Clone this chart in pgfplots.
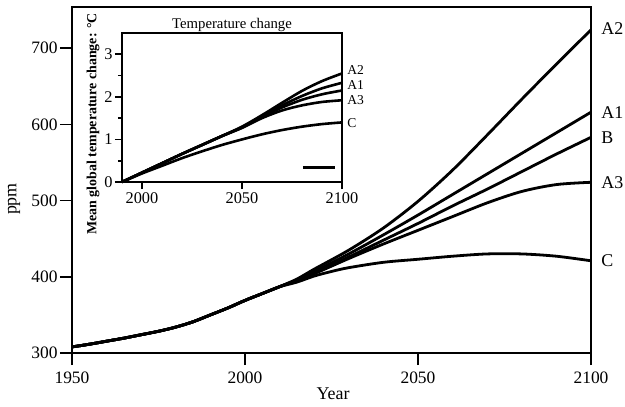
\documentclass[border=0pt]{standalone}
\usepackage{fontspec}
\setmainfont{Liberation Serif}
\usepackage{pgfplots}
\pgfplotsset{compat=1.18}
\begin{document}
\begin{tikzpicture}
\begin{axis}[
  name=main, at={(0,0)}, anchor=south west,
  scale only axis, width=259.5bp, height=173bp,
  xmin=1950, xmax=2100, ymin=300, ymax=754,
  xtick={1950,2000,2050,2100}, ytick={300,400,500,600,700},
  tick align=outside, major tick length=6bp,
  xtick pos=left, ytick pos=left,
  axis line style={line width=0.8bp},
  every tick/.style={black, line width=0.8bp},
  /pgf/number format/assume math mode=true,
  /pgf/number format/1000 sep={},
  ticklabel style={font=\fontsize{8.75}{10}\selectfont},
  yticklabel style={inner sep=1bp},
  xlabel={Year}, ylabel={ppm},
  label style={font=\fontsize{9}{10}\selectfont},
  xlabel style={at={(axis description cs:0.503,0)}, anchor=center, yshift=-20.5bp},
  ylabel style={at={(axis description cs:-0.1118,0.445)}, anchor=center},
  clip=false,
]
\path (rel axis cs:-0.1387,-0.1532) rectangle (rel axis cs:1.0655,1.0202);
\addplot[smooth, line width=1.4bp] coordinates {
(1950,308) (1955,311.5) (1960,315.5) (1965,319.5) (1970,324) (1975,328.5) (1980,334) (1985,341) (1990,350) (1995,359) (2000,369) (2005,378) (2010,387)
(2015,397) (2020,410) (2030,435) (2040,464) (2050,499) (2060,540) (2070,586) (2080,633) (2090,679) (2100,724)};
\addplot[smooth, line width=1.4bp] coordinates {
(1950,308) (1955,311.5) (1960,315.5) (1965,319.5) (1970,324) (1975,328.5) (1980,334) (1985,341) (1990,350) (1995,359) (2000,369) (2005,378) (2010,387)
(2015,396) (2020,407) (2030,430) (2040,455) (2050,481) (2060,508) (2070,535) (2080,562) (2090,589) (2100,616)};
\addplot[smooth, line width=1.4bp] coordinates {
(1950,308) (1955,311.5) (1960,315.5) (1965,319.5) (1970,324) (1975,328.5) (1980,334) (1985,341) (1990,350) (1995,359) (2000,369) (2005,378) (2010,387)
(2015,395.5) (2020,405) (2030,426) (2040,448) (2050,470) (2060,493) (2070,515) (2080,538) (2090,561) (2100,583)};
\addplot[smooth, line width=1.4bp] coordinates {
(1950,308) (1955,311.5) (1960,315.5) (1965,319.5) (1970,324) (1975,328.5) (1980,334) (1985,341) (1990,350) (1995,359) (2000,369) (2005,378) (2010,387)
(2015,395) (2020,404) (2030,424) (2040,443) (2050,461) (2060,479) (2070,497) (2080,512) (2090,521) (2100,524)};
\addplot[smooth, line width=1.4bp] coordinates {
(1950,308) (1955,311.5) (1960,315.5) (1965,319.5) (1970,324) (1975,328.5) (1980,334) (1985,341) (1990,350) (1995,359) (2000,369) (2005,378) (2010,387)
(2015,393) (2020,401) (2025,407) (2030,412) (2040,419) (2050,423) (2060,427) (2070,430) (2080,430) (2090,427) (2100,421)};
\begin{scope}[every node/.style={anchor=west, inner sep=0pt, xshift=5bp, font=\fontsize{9}{10}\selectfont}]
\node at (axis cs:2100,726) {A2};
\node at (axis cs:2100,616) {A1};
\node at (axis cs:2100,583) {B};
\node at (axis cs:2100,523) {A3};
\node at (axis cs:2100,421) {C};
\end{scope}
\end{axis}

\begin{axis}[
  at={(25bp,85.5bp)}, anchor=south west,
  scale only axis, width=110bp, height=74.5bp,
  xmin=1990, xmax=2100, ymin=0, ymax=3.5,
  xtick={2000,2050,2100}, ytick={0,1,2,3}, minor ytick={0.5,1.5,2.5},
  tick align=outside, major tick length=3.5bp, minor tick length=2bp,
  xtick pos=left, ytick pos=left,
  axis line style={line width=0.8bp},
  every tick/.style={black, line width=0.8bp},
  /pgf/number format/assume math mode=true,
  /pgf/number format/1000 sep={},
  ticklabel style={font=\fontsize{8.2}{9}\selectfont},
  yticklabel style={inner sep=1bp},
  xticklabel style={inner sep=1.5bp},
  ylabel={\textbf{Mean global temperature change: °C}},
  ylabel style={at={(axis description cs:-0.1318,0.39)}, anchor=center, font=\fontsize{7}{8}\selectfont},
  clip=false,
]
\addplot[smooth, line width=1.3bp] coordinates {
(1990,0) (2000,0.22) (2010,0.44) (2020,0.66) (2030,0.87) (2040,1.08)
(2050,1.3) (2060,1.57) (2070,1.86) (2080,2.14) (2090,2.37) (2100,2.55)};
\addplot[smooth, line width=1.3bp] coordinates {
(1990,0) (2000,0.22) (2010,0.44) (2020,0.66) (2030,0.87) (2040,1.08)
(2050,1.29) (2060,1.55) (2070,1.8) (2080,2.02) (2090,2.2) (2100,2.33)};
\addplot[smooth, line width=1.3bp] coordinates {
(1990,0) (2000,0.22) (2010,0.44) (2020,0.66) (2030,0.87) (2040,1.08)
(2050,1.28) (2060,1.53) (2070,1.75) (2080,1.93) (2090,2.06) (2100,2.15)};
\addplot[smooth, line width=1.3bp] coordinates {
(1990,0) (2000,0.22) (2010,0.44) (2020,0.66) (2030,0.87) (2040,1.08)
(2050,1.27) (2060,1.5) (2070,1.68) (2080,1.8) (2090,1.88) (2100,1.92)};
\addplot[smooth, line width=1.3bp] coordinates {
(1990,0) (2000,0.2) (2010,0.38) (2020,0.56) (2030,0.72) (2040,0.87) (2050,1.0) (2060,1.12) (2070,1.22) (2080,1.3) (2090,1.36) (2100,1.4)};
\addplot[line width=1.5bp] coordinates {(2080.5,0.33) (2096.5,0.33)};
\node[anchor=center, yshift=4bp, font=\fontsize{7.4}{8}\selectfont] at (rel axis cs:0.5,1) {Temperature change};
\begin{scope}[every node/.style={anchor=west, inner sep=0pt, xshift=2.5bp, font=\fontsize{6.8}{8}\selectfont}]
\node at (axis cs:2100,2.62) {A2};
\node at (axis cs:2100,2.27) {A1};
\node at (axis cs:2100,1.93) {A3};
\node at (axis cs:2100,1.39) {C};
\end{scope}
\end{axis}
\end{tikzpicture}
\end{document}
